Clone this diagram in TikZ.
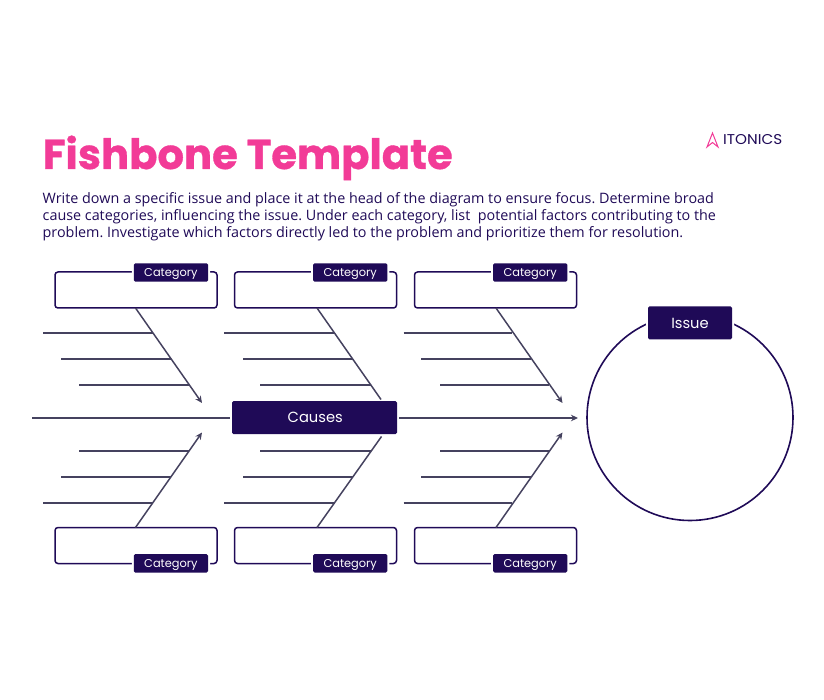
\documentclass[tikz,border=0pt]{standalone}
\usepackage{fontspec}
\setmainfont{Open Sans}
\newfontfamily\pop{Poppins}
\newfontfamily\popx[FakeBold=0.8]{Poppins Bold}
\newfontfamily\poplogo[FakeStretch=1.07]{Poppins}
\usetikzlibrary{arrows.meta}
\definecolor{navy}{HTML}{1F0A57}
\definecolor{pinkT}{HTML}{F23B97}
\definecolor{bone}{HTML}{45425F}
\frenchspacing
\newcommand{\lowcat}[1]{\raisebox{-3.7pt}[0pt][0pt]{#1}}
\newcommand{\lowbig}[1]{\raisebox{-5pt}[0pt][0pt]{#1}}
\tikzset{
  x=1pt,y=-1pt,
  catbox/.style={draw=navy,line width=1.5pt,rounded corners=3pt,minimum width=162pt,minimum height=36pt,inner sep=0pt},
  badge/.style={fill=navy,rounded corners=1.5pt,inner sep=0pt,text=white,font=\pop\fontsize{11.4}{12}\selectfont,
    preaction={draw=white,line width=4pt}},
  catbadge/.style={badge,minimum width=74.3pt,minimum height=18.4pt},
  bigbadge/.style={badge,font=\pop\fontsize{14.7}{16}\selectfont,minimum height=33pt},
  rib/.style={draw=bone,line width=1.5pt},
  ribarrow/.style={rib,-{Stealth[length=7pt,width=6.5pt]}},
}
\begin{document}
\begin{tikzpicture}
\useasboundingbox (0,0) rectangle (824,700);
% title and description
\node[anchor=base west,inner sep=0pt,text=pinkT,font=\popx\fontsize{41.7}{48}\selectfont] (title) at (42.5,169) {Fishbone Template};
\node[anchor=north west,inner sep=0pt,align=left,text=navy,font=\fontsize{14.35}{17.1}\selectfont] (desc) at (42.5,192) {Write down a specific issue and place it at the head of the diagram to ensure focus. Determine broad\\cause categories, influencing the issue. Under each category, list\ \ potential factors contributing to the\\problem. Investigate which factors directly led to the problem and prioritize them for resolution.};
% logo
\draw[draw=pinkT,line width=1pt,line join=miter] (712.5,133) -- (718,147) -- (712.5,142.5) -- (707,147) -- cycle;
\node[anchor=base west,inner sep=0pt,text=navy,font=\poplogo\fontsize{14.2}{15}\selectfont] (logo) at (723,145) {ITONICS};
% category boxes
\node[catbox] (boxT1) at (136,290) {};
\node[catbox] (boxT2) at (315.5,290) {};
\node[catbox] (boxT3) at (495.5,290) {};
\node[catbox] (boxB1) at (136,545.5) {};
\node[catbox] (boxB2) at (315.5,545.5) {};
\node[catbox] (boxB3) at (495.5,545.5) {};
% issue circle
\node[circle,draw=navy,line width=1.6pt,minimum size=206pt,inner sep=0pt] (head) at (690,417.5) {};
% coordinates
\coordinate (sT1) at (135.5,308); \coordinate (tT1) at (202,403);
\coordinate (sT2) at (317,308);   \coordinate (tT2) at (381,399.5);
\coordinate (sT3) at (496,308);   \coordinate (tT3) at (562.5,403);
\coordinate (sB1) at (135.5,527.5); \coordinate (tB1) at (202,432.5);
\coordinate (sB2) at (317,527.5);   \coordinate (tB2) at (381.5,436.5);
\coordinate (sB3) at (496,527.5);   \coordinate (tB3) at (562.5,432.5);
\coordinate (tail) at (32,418);
\coordinate (headend) at (578,418);
% spine
\node[bigbadge,minimum width=165pt] (causes) at (314.5,417.7) {\hspace{1.5pt}\lowbig{Causes}};
\draw[rib,shorten >=2pt] (tail) -- (causes.west |- tail);
\draw[ribarrow,shorten <=2pt] (causes.east |- headend) -- (headend);
% diagonals
\draw[ribarrow] (sT1) -- (tT1);
\draw[rib] (sT2) -- (tT2);
\draw[ribarrow] (sT3) -- (tT3);
\draw[ribarrow] (sB1) -- (tB1);
\draw[rib] (sB2) -- (tB2);
\draw[ribarrow] (sB3) -- (tB3);
% ribs
\foreach \n/\xa/\xb/\y in {a/43/152.5/333,b/61/171/359,c/79/188.5/385,d/224/334/333,e/243/352.5/359,f/260/371/385,g/403.5/512/333,h/421/530.5/359,i/440/548.5/385,
  j/79/188.5/451,k/61/171/477,l/43/152.5/503,m/260/371/451,n/243/352.5/477,o/224/334/503,p/440/548.5/451,q/421/530.5/477,r/403.5/512/503}{
  \coordinate (r\n L) at (\xa,\y);
  \coordinate (r\n R) at (\xb,\y);
  \draw[rib] (r\n L) -- (r\n R);
}
% badges on top
\node[catbadge] (catT1) at (170.9,272.5) {\lowcat{Category}};
\node[catbadge] (catT2) at (350.2,272.5) {\lowcat{Category}};
\node[catbadge] (catT3) at (530.2,272.5) {\lowcat{Category}};
\node[catbadge] (catB1) at (170.9,563.3) {\lowcat{Category}};
\node[catbadge] (catB2) at (350.2,563.3) {\lowcat{Category}};
\node[catbadge] (catB3) at (530.2,563.3) {\lowcat{Category}};
\node[bigbadge,minimum width=84pt] (issue) at (690,322.8) {\raisebox{-5.6pt}[0pt][0pt]{Issue}};
\end{tikzpicture}
\end{document}
